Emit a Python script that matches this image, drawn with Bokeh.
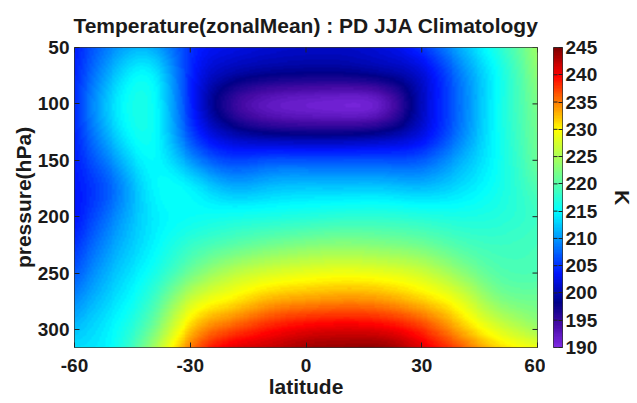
import numpy as np
from bokeh.plotting import figure
from bokeh.models import LinearColorMapper, FixedTicker, Range1d, LinearAxis, Title
from bokeh.layouts import row
from bokeh.embed import file_html
from bokeh.resources import INLINE

# Zonal-mean temperature (K), PD JJA climatology
latitude = [-60, -50, -40, -30, -20, -10, 0, 10, 20, 30, 40, 50, 60]
pressure = [50, 75, 100, 125, 150, 175, 200, 225, 250, 275, 300, 316]
t_050 = [204.0, 209.5, 211.0, 205.0, 202.5, 201.5, 201.0, 201.0, 202.0, 205.0, 211.0, 217.0, 224.0]
t_075 = [204.5, 212.0, 214.5, 204.5, 199.5, 198.0, 197.5, 197.5, 198.5, 201.5, 208.5, 215.5, 223.0]
t_100 = [205.0, 213.5, 215.5, 204.5, 196.0, 192.5, 191.5, 191.0, 192.5, 200.5, 208.0, 215.5, 222.0]
t_125 = [204.5, 212.5, 215.5, 206.0, 200.0, 198.0, 197.5, 197.5, 198.5, 202.0, 208.5, 215.5, 221.5]
t_150 = [204.0, 210.0, 215.0, 210.0, 206.0, 206.5, 206.5, 206.5, 206.5, 207.0, 211.0, 215.5, 221.0]
t_175 = [203.5, 208.0, 214.5, 214.5, 211.5, 212.0, 212.5, 212.5, 212.5, 212.0, 213.5, 216.0, 219.5]
t_200 = [203.5, 209.0, 214.0, 215.5, 216.0, 216.5, 217.0, 217.5, 217.5, 217.0, 216.5, 217.0, 218.5]
t_225 = [205.0, 210.5, 214.5, 218.0, 220.0, 221.5, 222.5, 223.0, 222.5, 221.5, 219.5, 218.5, 219.0]
t_250 = [207.0, 212.0, 216.0, 221.5, 225.5, 227.5, 228.5, 229.0, 228.5, 227.0, 223.5, 220.0, 219.5]
t_275 = [209.5, 213.5, 218.5, 227.0, 230.5, 233.0, 234.0, 234.5, 234.0, 232.0, 228.5, 223.0, 221.5]
t_300 = [212.0, 215.0, 221.5, 232.0, 236.5, 239.0, 240.5, 241.0, 240.5, 238.0, 233.0, 228.0, 224.5]
t_316 = [213.5, 215.5, 224.0, 235.0, 240.5, 242.0, 243.5, 244.0, 244.0, 241.0, 236.5, 231.5, 229.0]

lat_ticks = [-60, -30, 0, 30, 60]
lat_labels = ["-60", "-30", "0", "30", "60"]
p_ticks = [50, 100, 150, 200, 250, 300]
cbar_ticks = list(range(190, 246, 5))
t_min, t_max = 190, 245

FONT = "Liberation Sans"
INK = "#1a1a1a"


def spline_weights(x, xf):
    """Natural cubic spline weights so that y(xf) = W @ y(x)."""
    x = np.asarray(x, float)
    n = len(x)
    h = np.diff(x)
    W = np.zeros((len(xf), n))
    idx = np.clip(np.searchsorted(x, xf) - 1, 0, n - 2)
    t0, t1 = x[idx], x[idx + 1]
    hh = t1 - t0
    a = (t1 - xf) / hh
    b = (xf - t0) / hh
    for k in range(n):
        y = np.zeros(n)
        y[k] = 1.0
        A = np.zeros((n, n))
        r = np.zeros(n)
        A[0, 0] = A[-1, -1] = 1.0
        for i in range(1, n - 1):
            A[i, i - 1] = h[i - 1]
            A[i, i] = 2 * (h[i - 1] + h[i])
            A[i, i + 1] = h[i]
            r[i] = 6 * ((y[i + 1] - y[i]) / h[i] - (y[i] - y[i - 1]) / h[i - 1])
        M = np.linalg.solve(A, r)
        W[:, k] = (a * y[idx] + b * y[idx + 1]
                   + ((a ** 3 - a) * M[idx] + (b ** 3 - b) * M[idx + 1]) * hh ** 2 / 6)
    return W


# smooth field for shading
T = np.array([t_050, t_075, t_100, t_125, t_150, t_175, t_200,
              t_225, t_250, t_275, t_300, t_316])
lat_f = np.linspace(latitude[0], latitude[-1], 241)
p_f = np.linspace(pressure[0], pressure[-1], 267)
field = spline_weights(pressure, p_f) @ T @ spline_weights(latitude, lat_f).T

# jet-like palette with a violet floor
anchors = [(190, (125, 40, 225)), (194, (70, 10, 165)), (198, (0, 0, 135)),
           (203.5, (0, 20, 255)), (215, (0, 255, 255)), (222.5, (128, 255, 128)),
           (230, (255, 255, 0)), (240, (255, 0, 0)), (245, (130, 0, 0))]
av = [a[0] for a in anchors]
steps = np.linspace(t_min, t_max, 110)
palette = []
for v in steps:
    rgb = [int(round(np.interp(v, av, [a[1][c] for a in anchors]))) for c in range(3)]
    palette.append("#%02x%02x%02x" % tuple(rgb))
mapper = LinearColorMapper(palette=palette, low=t_min, high=t_max)


def style_axis(ax):
    ax.axis_line_color = None
    ax.major_tick_in = 5
    ax.major_tick_out = 0
    ax.minor_tick_line_color = None
    ax.major_tick_line_color = "#222222"
    ax.major_label_text_font = FONT
    ax.major_label_text_font_size = "19px"
    ax.major_label_text_font_style = "bold"
    ax.major_label_text_color = INK
    ax.axis_label_text_font = FONT
    ax.axis_label_text_font_size = "21px"
    ax.axis_label_text_font_style = "bold"
    ax.axis_label_text_color = INK


# ---- main panel
p = figure(width=545, height=403, x_range=Range1d(latitude[0], latitude[-1]),
           y_range=Range1d(pressure[-1], pressure[0]),
           output_backend="svg", toolbar_location=None,
           min_border_left=74, min_border_right=8, min_border_top=45, min_border_bottom=56)
p.image(image=[field], x=latitude[0], y=pressure[0], dw=latitude[-1] - latitude[0],
        dh=pressure[-1] - pressure[0], color_mapper=mapper)
p.grid.visible = False
p.outline_line_color = "#333333"
p.outline_line_width = 1
p.background_fill_color = "white"
p.border_fill_color = "white"

p.title = Title(text="Temperature(zonalMean) : PD JJA Climatology", align="center",
                text_font=FONT, text_font_size="21px", text_font_style="bold",
                text_color=INK, standoff=22)

p.xaxis.ticker = FixedTicker(ticks=lat_ticks)
p.xaxis.major_label_overrides = dict(zip(lat_ticks, lat_labels))
p.yaxis.ticker = FixedTicker(ticks=p_ticks)
p.xaxis.axis_label = "latitude"
p.yaxis.axis_label = "pressure(hPa)"
style_axis(p.xaxis[0])
style_axis(p.yaxis[0])
p.xaxis.major_label_standoff = 11
p.xaxis.axis_label_standoff = 0
p.yaxis.major_label_standoff = 5
p.yaxis.axis_label_standoff = 0

# inward ticks on the top and right edges of the box
p.scatter(x=lat_ticks, y=[pressure[0]] * len(lat_ticks), marker="dash", angle=np.pi / 2,
          size=10, line_color="#222222", line_width=1)
p.scatter(x=[latitude[-1]] * len(p_ticks), y=p_ticks, marker="dash",
          size=10, line_color="#222222", line_width=1)

# ---- colour bar panel
cb = figure(width=92, height=403, x_range=Range1d(0, 1), y_range=Range1d(t_min, t_max),
            output_backend="svg", toolbar_location=None,
            x_axis_location=None, y_axis_location=None,
            min_border_left=8, min_border_right=64, min_border_top=45, min_border_bottom=55)
ramp = np.linspace(t_min, t_max, 440).reshape(-1, 1)
cb.image(image=[ramp], x=0, y=t_min, dw=1, dh=t_max - t_min, color_mapper=mapper)
cb.grid.visible = False
cb.outline_line_color = "#333333"
cb.background_fill_color = "white"
cb.border_fill_color = "white"
cb.scatter(x=[0] * len(cbar_ticks), y=cbar_ticks, marker="dash",
           size=8, line_color="#222222", line_width=1)

cb_right = LinearAxis(ticker=FixedTicker(ticks=cbar_ticks), axis_label="K")
style_axis(cb_right)
cb_right.major_tick_in = 4
cb_right.major_label_standoff = 3
cb_right.axis_label_standoff = 11
cb.add_layout(cb_right, "right")

layout = row(p, cb)
open("out.html", "w").write(file_html(layout, INLINE))
